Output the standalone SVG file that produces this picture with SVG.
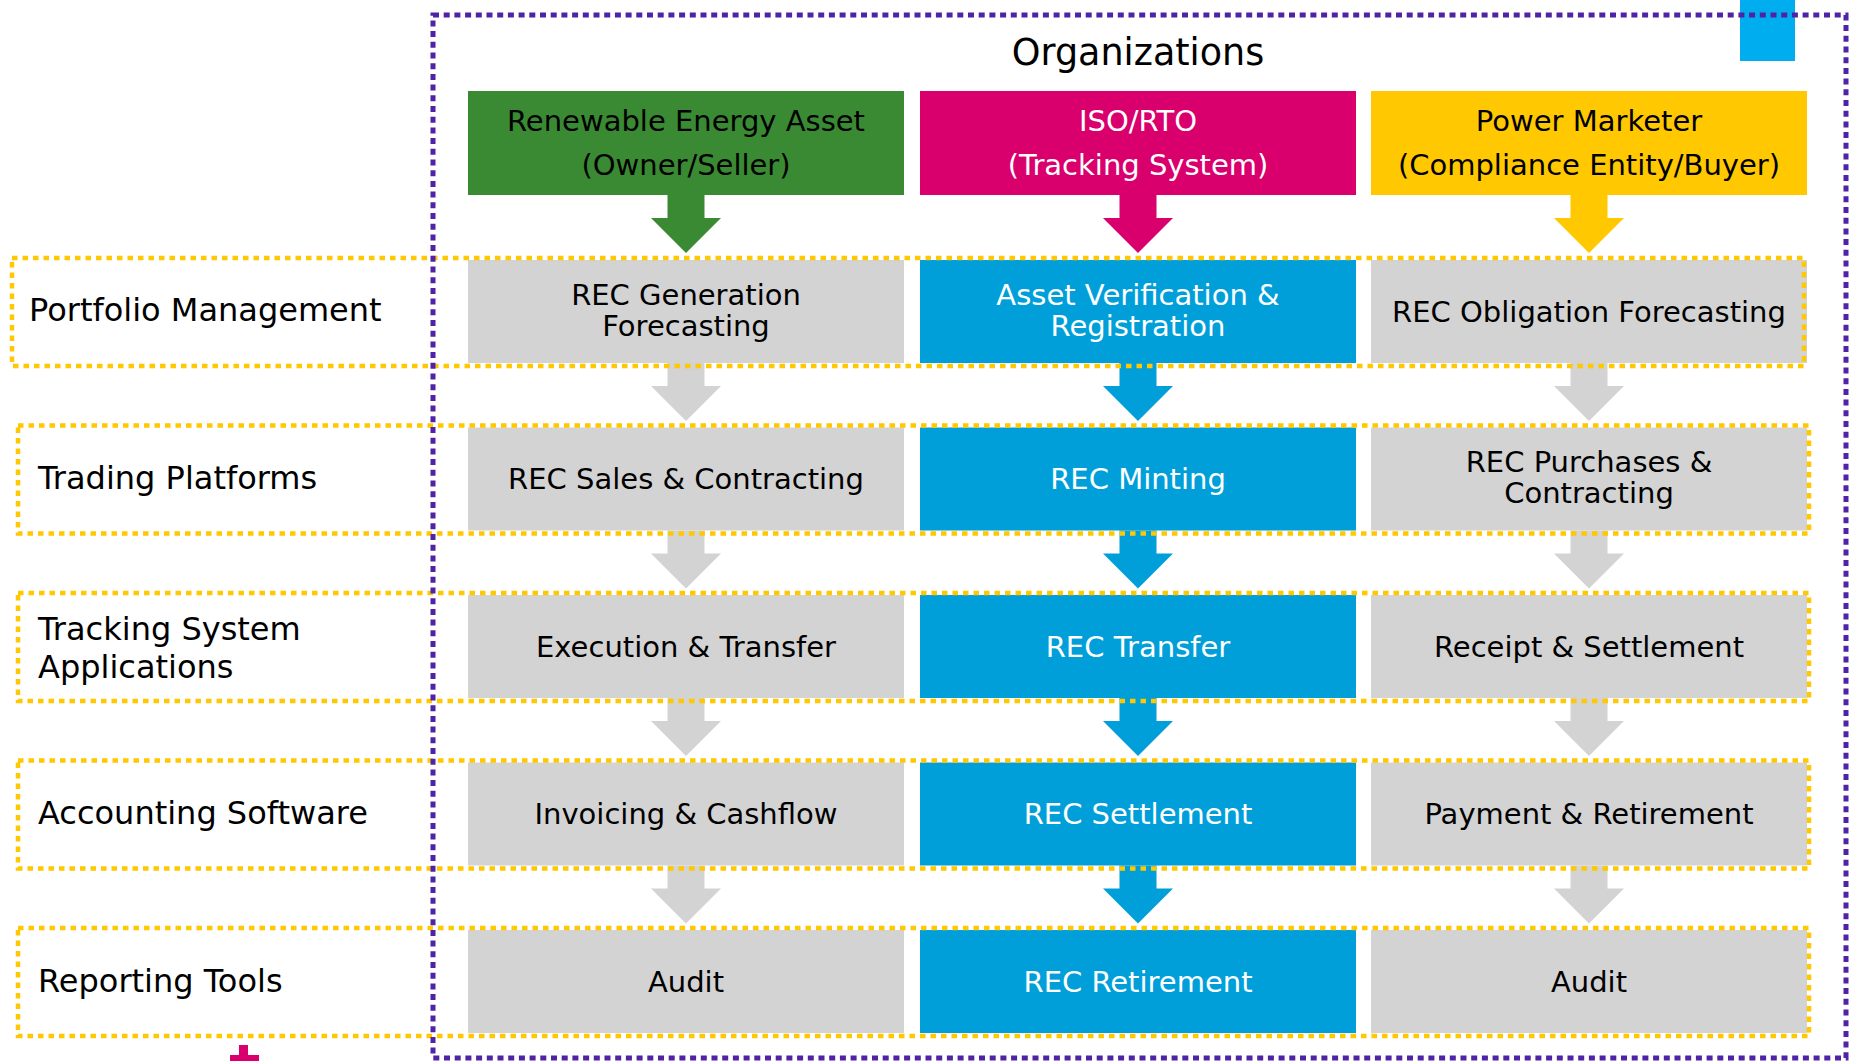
<svg xmlns="http://www.w3.org/2000/svg" width="1849" height="1061" viewBox="0 0 1849 1061">
<style>
text{font-family:"DejaVu Sans","Liberation Sans",sans-serif;text-anchor:middle}
.t{font-size:29px;fill:#000}
.w{font-size:29px;fill:#fff}
.lbl{font-size:32px;fill:#000;text-anchor:start}
.gray{fill:#D3D3D3}
.blue{fill:#009FDA}
.row{fill:none;stroke:#FFC800;stroke-width:4.5;stroke-dasharray:5.5 5}
.org{fill:none;stroke:#5022A6;stroke-width:5;stroke-dasharray:6 4.7}
</style>
<rect x="0" y="0" width="1849" height="1061" fill="#fff"/>
<rect id="tab" x="1740" y="0" width="55" height="61" fill="#00AEEF"/>
<text x="1138" y="65" style="font-size:36.5px;fill:#000">Organizations</text>

<g id="hdr-owner"><rect x="468" y="91" width="436" height="104" fill="#3A8A33"/>
<text class="t" x="686" y="131">Renewable Energy Asset</text><text class="t" x="686" y="175">(Owner/Seller)</text></g>
<g id="hdr-iso"><rect x="920" y="91" width="436" height="104" fill="#D9006E"/>
<text class="w" x="1138" y="131">ISO/RTO</text><text class="w" x="1138" y="175">(Tracking System)</text></g>
<g id="hdr-marketer"><rect x="1371" y="91" width="436" height="104" fill="#FFC800"/>
<text class="t" x="1589" y="131">Power Marketer</text><text class="t" x="1589" y="175">(Compliance Entity/Buyer)</text></g>

<g id="r1c1"><rect class="gray" x="468" y="260" width="436" height="103"/><text class="t" x="686" y="305">REC Generation</text><text class="t" x="686" y="336">Forecasting</text></g>
<g id="r1c2"><rect class="blue" x="920" y="260" width="436" height="103"/><text class="w" x="1138" y="305">Asset Verification &amp;</text><text class="w" x="1138" y="336">Registration</text></g>
<g id="r1c3"><rect class="gray" x="1371" y="260" width="436" height="103"/><text class="t" x="1589" y="321.5">REC Obligation Forecasting</text></g>

<g id="r2c1"><rect class="gray" x="468" y="427.5" width="436" height="103"/><text class="t" x="686" y="489">REC Sales &amp; Contracting</text></g>
<g id="r2c2"><rect class="blue" x="920" y="427.5" width="436" height="103"/><text class="w" x="1138" y="489">REC Minting</text></g>
<g id="r2c3"><rect class="gray" x="1371" y="427.5" width="436" height="103"/><text class="t" x="1589" y="472">REC Purchases &amp;</text><text class="t" x="1589" y="503">Contracting</text></g>

<g id="r3c1"><rect class="gray" x="468" y="595" width="436" height="103"/><text class="t" x="686" y="656.5">Execution &amp; Transfer</text></g>
<g id="r3c2"><rect class="blue" x="920" y="595" width="436" height="103"/><text class="w" x="1138" y="656.5">REC Transfer</text></g>
<g id="r3c3"><rect class="gray" x="1371" y="595" width="436" height="103"/><text class="t" x="1589" y="656.5">Receipt &amp; Settlement</text></g>

<g id="r4c1"><rect class="gray" x="468" y="762.5" width="436" height="103"/><text class="t" x="686" y="824">Invoicing &amp; Cashflow</text></g>
<g id="r4c2"><rect class="blue" x="920" y="762.5" width="436" height="103"/><text class="w" x="1138" y="824">REC Settlement</text></g>
<g id="r4c3"><rect class="gray" x="1371" y="762.5" width="436" height="103"/><text class="t" x="1589" y="824">Payment &amp; Retirement</text></g>

<g id="r5c1"><rect class="gray" x="468" y="930" width="436" height="103"/><text class="t" x="686" y="991.5">Audit</text></g>
<g id="r5c2"><rect class="blue" x="920" y="930" width="436" height="103"/><text class="w" x="1138" y="991.5">REC Retirement</text></g>
<g id="r5c3"><rect class="gray" x="1371" y="930" width="436" height="103"/><text class="t" x="1589" y="991.5">Audit</text></g>

<g id="connectors">
<polygon fill="#3A8A33" points="667.5,195 704.5,195 704.5,218 721,218 686,253 651,218 667.5,218"/>
<polygon fill="#D9006E" points="1119.5,195 1156.5,195 1156.5,218 1173,218 1138,253 1103,218 1119.5,218"/>
<polygon fill="#FFC800" points="1570.5,195 1607.5,195 1607.5,218 1624,218 1589,253 1554,218 1570.5,218"/>
<g class="gray">
<polygon points="667.5,363 704.5,363 704.5,386 721,386 686,421 651,386 667.5,386"/>
<polygon points="667.5,530.5 704.5,530.5 704.5,553.5 721,553.5 686,588.5 651,553.5 667.5,553.5"/>
<polygon points="667.5,698 704.5,698 704.5,721 721,721 686,756 651,721 667.5,721"/>
<polygon points="667.5,865.5 704.5,865.5 704.5,888.5 721,888.5 686,923.5 651,888.5 667.5,888.5"/>
<polygon points="1570.5,363 1607.5,363 1607.5,386 1624,386 1589,421 1554,386 1570.5,386"/>
<polygon points="1570.5,530.5 1607.5,530.5 1607.5,553.5 1624,553.5 1589,588.5 1554,553.5 1570.5,553.5"/>
<polygon points="1570.5,698 1607.5,698 1607.5,721 1624,721 1589,756 1554,721 1570.5,721"/>
<polygon points="1570.5,865.5 1607.5,865.5 1607.5,888.5 1624,888.5 1589,923.5 1554,888.5 1570.5,888.5"/>
</g>
<g class="blue">
<polygon points="1119.5,363 1156.5,363 1156.5,386 1173,386 1138,421 1103,386 1119.5,386"/>
<polygon points="1119.5,530.5 1156.5,530.5 1156.5,553.5 1173,553.5 1138,588.5 1103,553.5 1119.5,553.5"/>
<polygon points="1119.5,698 1156.5,698 1156.5,721 1173,721 1138,756 1103,721 1119.5,721"/>
<polygon points="1119.5,865.5 1156.5,865.5 1156.5,888.5 1173,888.5 1138,923.5 1103,888.5 1119.5,888.5"/>
</g>
</g>

<g id="row-portfolio"><rect class="row" x="12" y="258" width="1792" height="108"/><text class="lbl" x="29" y="321">Portfolio Management</text></g>
<g id="row-trading"><rect class="row" x="18" y="425.5" width="1791" height="108"/><text class="lbl" x="38" y="489">Trading Platforms</text></g>
<g id="row-tracking"><rect class="row" x="18" y="593" width="1791" height="108"/><text class="lbl" x="38" y="640">Tracking System</text><text class="lbl" x="38" y="678">Applications</text></g>
<g id="row-accounting"><rect class="row" x="18" y="760.5" width="1791" height="108"/><text class="lbl" x="38" y="824">Accounting Software</text></g>
<g id="row-reporting"><rect class="row" x="18" y="928" width="1791" height="108"/><text class="lbl" x="38" y="992">Reporting Tools</text></g>

<rect id="organizations" class="org" x="433" y="15" width="1413" height="1043"/>
<path id="mark" fill="#D9006E" d="M239,1045h9v10h11v6h-29v-6h9z"/>
</svg>
